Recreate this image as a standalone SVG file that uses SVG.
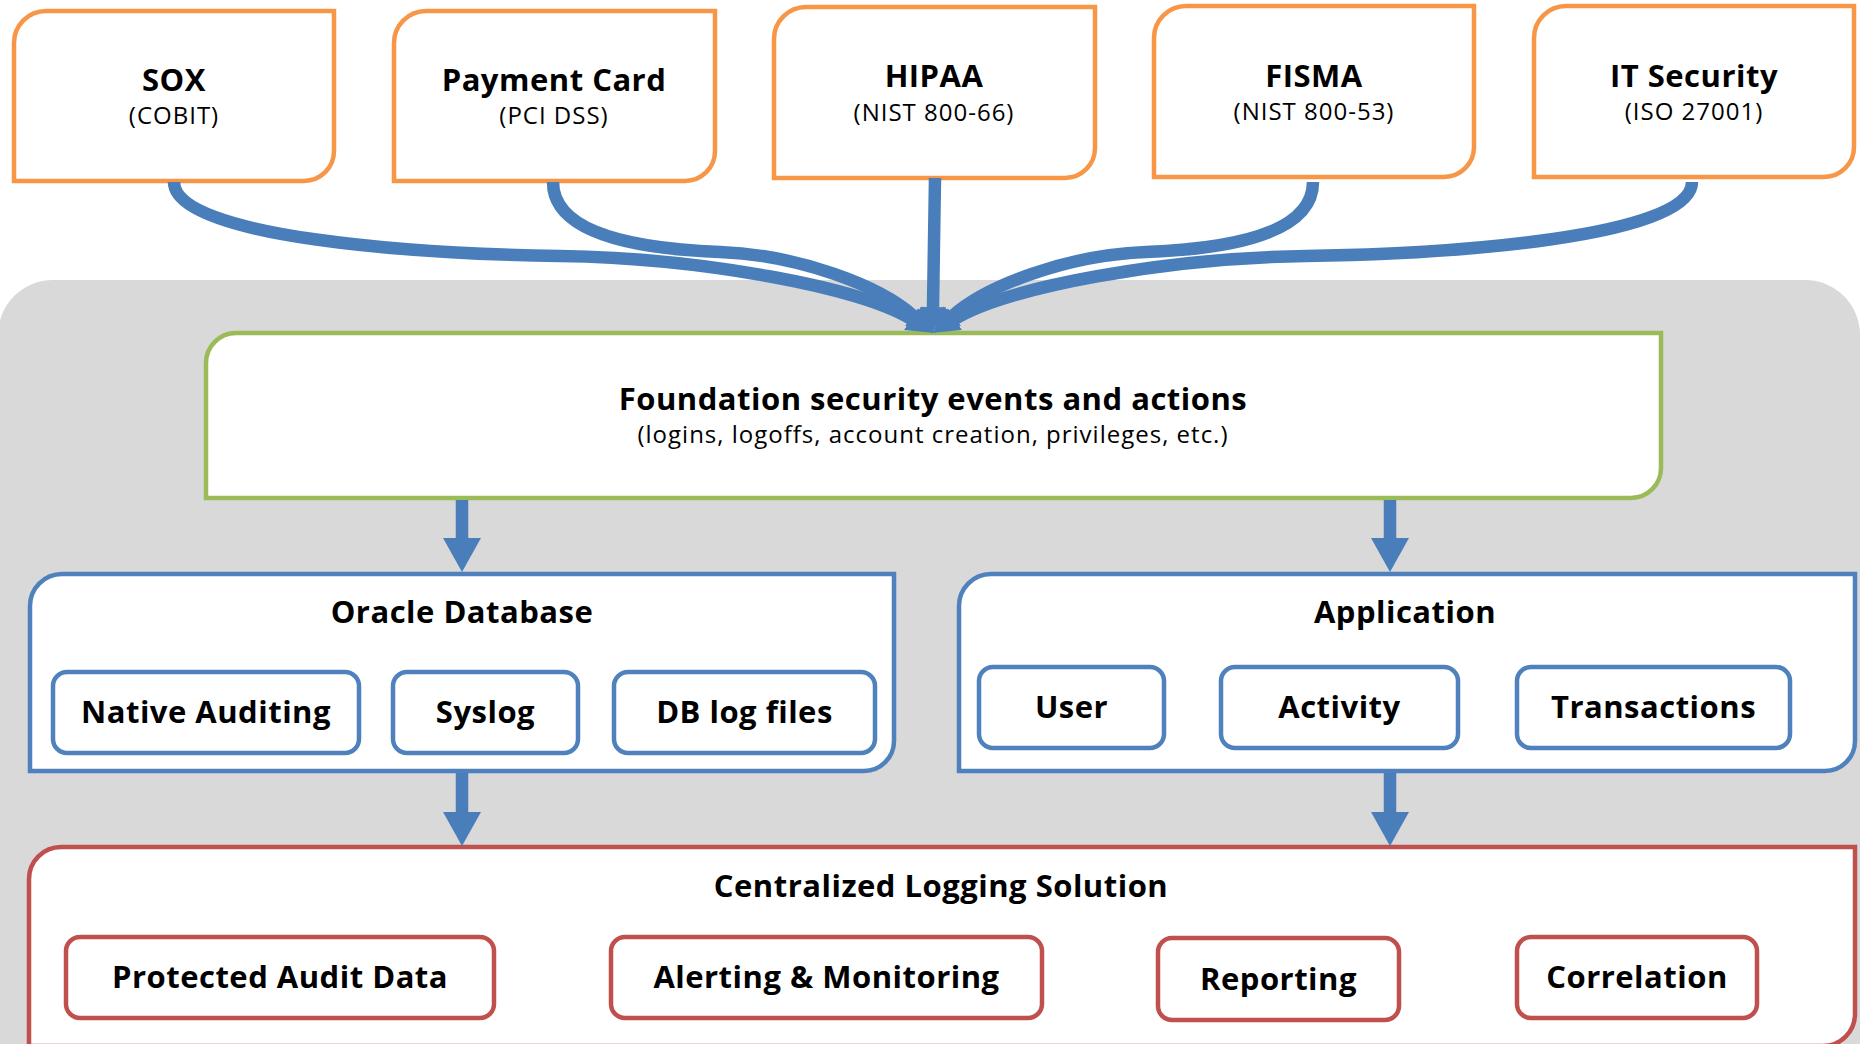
<svg xmlns="http://www.w3.org/2000/svg" width="1860" height="1044" viewBox="0 0 1860 1044">
<defs>
<style>
.bg{fill:#D9D9D9}
.box{fill:#FFFFFF;stroke-width:4.5}
.or{stroke:#F79646}
.gr{stroke:#9BBB59}
.bl{stroke:#4F81BD}
.rd{stroke:#C0504D}
.t{font-family:"Open Sans","Liberation Sans",sans-serif;font-weight:bold;font-size:31px;letter-spacing:0.5px;fill:#000;text-anchor:middle}
.s{font-family:"Open Sans","Liberation Sans",sans-serif;font-weight:normal;font-size:24px;letter-spacing:1px;fill:#000;text-anchor:middle}
.c{fill:none;stroke:#4A7EBB;stroke-width:12.5}
</style>
<marker id="head" viewBox="0 -14 28 28" markerWidth="28" markerHeight="28" refX="0" refY="0" orient="auto" markerUnits="userSpaceOnUse"><path d="M0,-13 L26,0 L0,13 Z" fill="#4A7EBB"/></marker>
<marker id="headBig" viewBox="0 -20 36 40" markerWidth="36" markerHeight="40" refX="0" refY="0" orient="auto" markerUnits="userSpaceOnUse"><path d="M0,-19 L34,0 L0,19 Z" fill="#4A7EBB"/></marker>
</defs>
<rect class="bg" x="-2" y="280" width="1862" height="820" rx="55" ry="55"/>

<g id="sox"><path class="box or" d="M46,11 H334 V151 A30,30 0 0 1 304,181 H14 V43 A32,32 0 0 1 46,11 Z"/><text class="t" x="174" y="91">SOX</text><text class="s" x="174" y="124">(COBIT)</text></g>
<g id="payment-card"><path class="box or" d="M426,11 H715 V151 A30,30 0 0 1 685,181 H394 V43 A32,32 0 0 1 426,11 Z"/><text class="t" x="554" y="91">Payment Card</text><text class="s" x="554" y="124">(PCI DSS)</text></g>
<g id="hipaa"><path class="box or" d="M806,7 H1095 V148 A30,30 0 0 1 1065,178 H774 V39 A32,32 0 0 1 806,7 Z"/><text class="t" x="934" y="87">HIPAA</text><text class="s" x="934" y="121">(NIST 800-66)</text></g>
<g id="fisma"><path class="box or" d="M1186,6 H1474 V147 A30,30 0 0 1 1444,177 H1154 V38 A32,32 0 0 1 1186,6 Z"/><text class="t" x="1314" y="87">FISMA</text><text class="s" x="1314" y="120">(NIST 800-53)</text></g>
<g id="it-security"><path class="box or" d="M1566,6 H1854 V147 A30,30 0 0 1 1824,177 H1534 V38 A32,32 0 0 1 1566,6 Z"/><text class="t" x="1694" y="87">IT Security</text><text class="s" x="1694" y="120">(ISO 27001)</text></g>

<g id="foundation"><path class="box gr" d="M236,333 H1661 V468 A30,30 0 0 1 1631,498 H206 V363 A30,30 0 0 1 236,333 Z"/><text class="t" x="933" y="410">Foundation security events and actions</text><text class="s" x="933" y="443">(logins, logoffs, account creation, privileges, etc.)</text></g>

<g id="oracle-database"><path class="box bl" d="M62,574 H894 V741 A30,30 0 0 1 864,771 H30 V606 A32,32 0 0 1 62,574 Z"/><text class="t" x="462" y="623">Oracle Database</text>
<g id="native-auditing"><rect class="box bl" x="53" y="672" width="306" height="81" rx="14"/><text class="t" x="206" y="723">Native Auditing</text></g>
<g id="syslog"><rect class="box bl" x="393" y="672" width="185" height="81" rx="14"/><text class="t" x="485.5" y="723">Syslog</text></g>
<g id="db-log-files"><rect class="box bl" x="614" y="672" width="261" height="81" rx="14"/><text class="t" x="744.5" y="723">DB log files</text></g>
</g>

<g id="application"><path class="box bl" d="M991,574 H1855 V741 A30,30 0 0 1 1825,771 H959 V606 A32,32 0 0 1 991,574 Z"/><text class="t" x="1405" y="623">Application</text>
<g id="user"><rect class="box bl" x="979" y="667" width="185" height="81" rx="14"/><text class="t" x="1071.5" y="718">User</text></g>
<g id="activity"><rect class="box bl" x="1221" y="667" width="237" height="81" rx="14"/><text class="t" x="1339.5" y="718">Activity</text></g>
<g id="transactions"><rect class="box bl" x="1517" y="667" width="273" height="81" rx="14"/><text class="t" x="1653.5" y="718">Transactions</text></g>
</g>

<g id="centralized-logging"><path class="box rd" d="M61,847 H1855 V1014 A32,32 0 0 1 1823,1046 H29 V879 A32,32 0 0 1 61,847 Z"/><text class="t" x="941" y="897">Centralized Logging Solution</text>
<g id="protected-audit-data"><rect class="box rd" x="66" y="937" width="428" height="81" rx="14"/><text class="t" x="280" y="988">Protected Audit Data</text></g>
<g id="alerting-monitoring"><rect class="box rd" x="611" y="937" width="431" height="81" rx="14"/><text class="t" x="826.5" y="988">Alerting &amp; Monitoring</text></g>
<g id="reporting"><rect class="box rd" x="1158" y="938" width="241" height="82" rx="14"/><text class="t" x="1278.5" y="990">Reporting</text></g>
<g id="correlation"><rect class="box rd" x="1517" y="937" width="240" height="81" rx="14"/><text class="t" x="1637" y="988">Correlation</text></g>
</g>

<g id="connectors">
<path class="c" marker-end="url(#head)" d="M174,182 C174,238 420,254 560,256 C700,258 860,287 911,319"/>
<path class="c" marker-end="url(#head)" d="M553,182 C553,225 610,248 720,252 C800,255 880,286 913.5,315.8"/>
<path class="c" marker-end="url(#head)" d="M935,178 L933,307"/>
<path class="c" marker-end="url(#head)" d="M1313,182 C1313,225 1256,248 1146,252 C1066,255 986,286 952.5,315.8"/>
<path class="c" marker-end="url(#head)" d="M1692,182 C1692,238 1446,254 1306,256 C1166,258 1006,287 955,319"/>
<path class="c" marker-end="url(#headBig)" d="M462,500 L462,538"/>
<path class="c" marker-end="url(#headBig)" d="M1390,500 L1390,538"/>
<path class="c" marker-end="url(#headBig)" d="M462,773 L462,812"/>
<path class="c" marker-end="url(#headBig)" d="M1390,773 L1390,812"/>
</g>
</svg>
